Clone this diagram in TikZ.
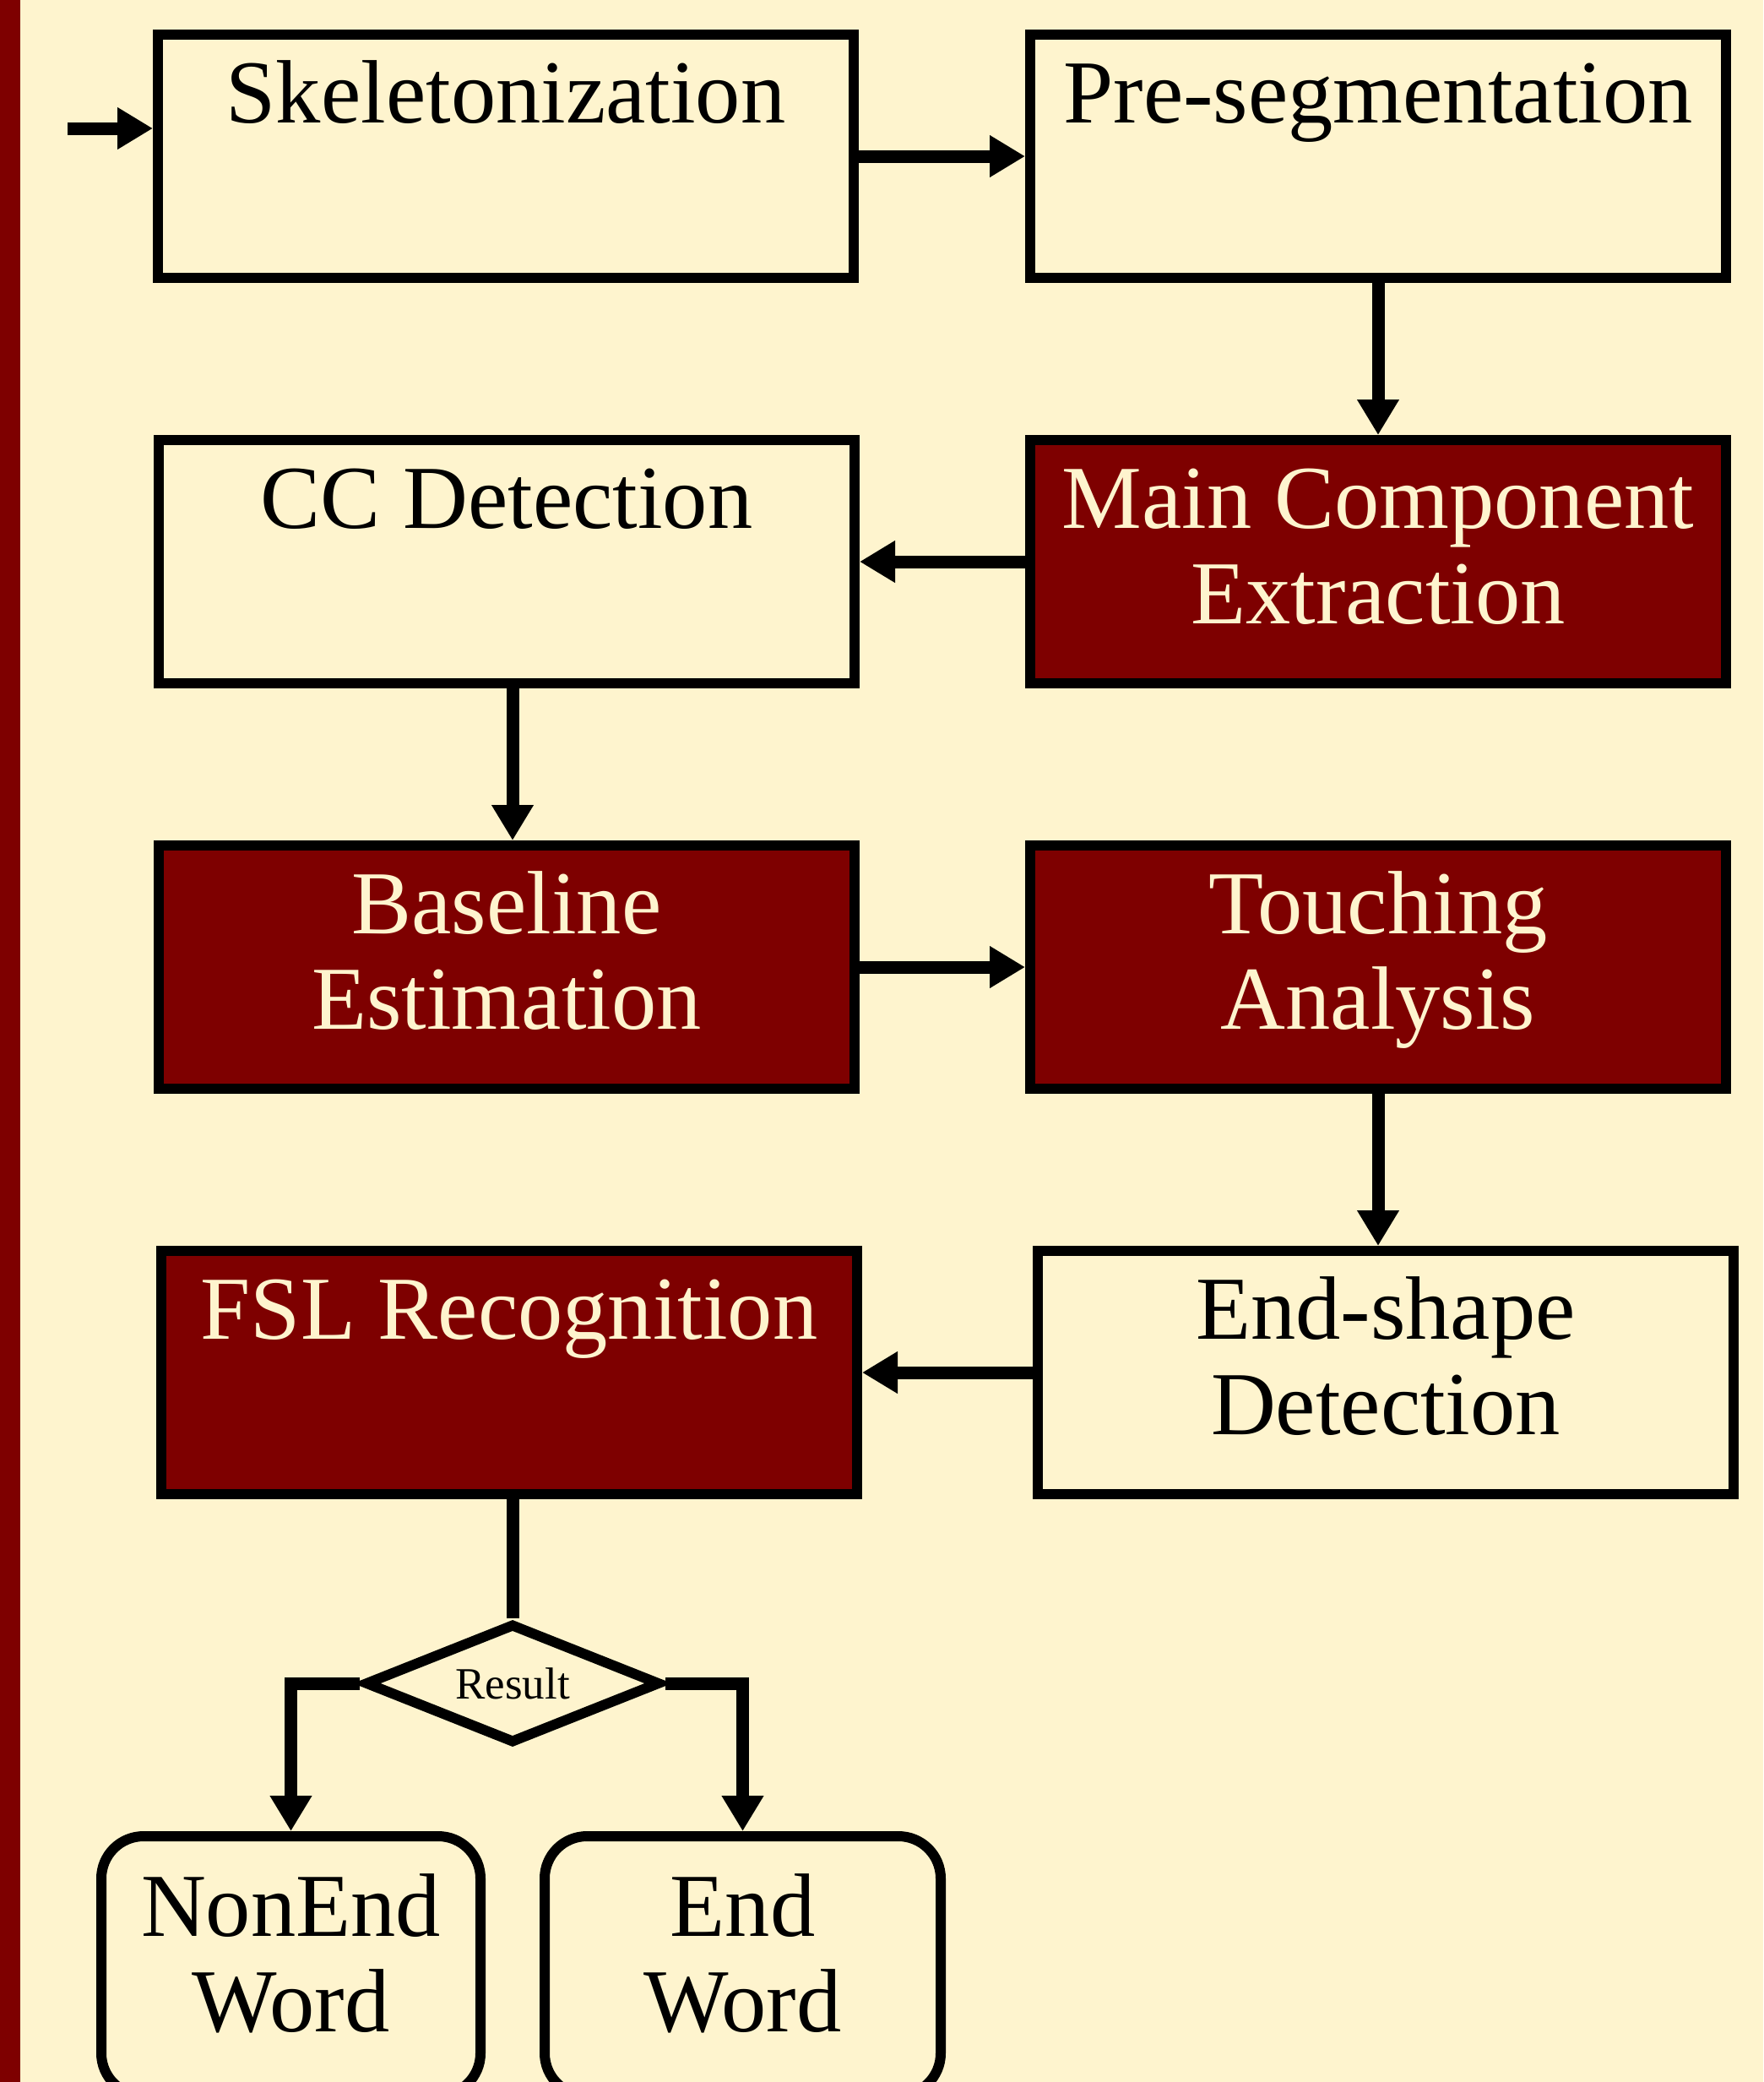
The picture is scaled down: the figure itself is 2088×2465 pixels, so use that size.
\documentclass[tikz,border=0pt]{standalone}
\usepackage{fontspec}
\setmainfont{Liberation Serif}
\usetikzlibrary{arrows.meta,shapes.geometric}
\definecolor{cream}{HTML}{FEF4CE}
\definecolor{maroon}{HTML}{7E0000}
\newcommand\stagetxt[1]{\parbox[c][288pt][t]{824pt}{\centering\fontsize{106.5}{113}\selectfont\rule{0pt}{104pt}#1}}
\newcommand\wordtxt[2]{\parbox[c][307pt][t]{#1}{\centering\fontsize{106.5}{113}\selectfont\rule{0pt}{118pt}#2}}
\tikzset{
  stage/.style={draw=black, line width=12pt, fill=cream, text=black, inner sep=0pt, rectangle},
  darkstage/.style={stage, fill=maroon, text=cream},
  wordbox/.style={draw=black, line width=12pt, fill=cream, text=black, inner sep=0pt, rounded corners=50pt},
  decide/.style={diamond, draw=black, line width=12pt, fill=cream, inner sep=0pt, aspect=2.5,
    minimum width=350pt, minimum height=142pt, font=\fontsize{53}{60}\selectfont},
  conn/.style={line width=15pt, -{Triangle[length=42pt,width=47pt]}},
  plainconn/.style={line width=15pt},
}
\begin{document}
\begin{tikzpicture}[x=1pt,y=-1pt]
\clip (0,0) rectangle (2088,2465);
\fill[cream] (0,0) rectangle (2088,2465);
\fill[maroon] (0,0) rectangle (24,2465);

\node[stage] (skel) at (599,185) {\stagetxt{Skeletonization}};
\node[stage] (pre) at (1632,185) {\stagetxt{Pre-segmentation}};
\node[stage] (cc) at (600,665) {\stagetxt{CC Detection}};
\node[darkstage] (main) at (1632,665) {\stagetxt{Main Component\\Extraction}};
\node[darkstage] (base) at (600,1145) {\stagetxt{Baseline\\Estimation}};
\node[darkstage] (touch) at (1632,1145) {\stagetxt{Touching\\Analysis}};
\node[darkstage] (fsl) at (603,1625) {\stagetxt{FSL Recognition}};
\node[stage] (endshape) at (1641,1625) {\stagetxt{End-shape\\Detection}};

\node[decide] (res) at (607,1993) {Result};

\node[wordbox] (nonend) at (344.5,2327.5) {\wordtxt{449pt}{NonEnd\\Word}};
\node[wordbox] (endword) at (879.5,2327.5) {\wordtxt{469pt}{End\\Word}};

\coordinate (in) at (80,152);
\draw[conn] (in) -- (in -| skel.west);
\draw[conn] (skel.east) -- (pre.west);
\draw[conn] (pre.south) -- (main.north);
\draw[conn] (main.west) -- (cc.east);
\draw[conn] ([xshift=7pt]cc.south) -- ([xshift=7pt]base.north);
\draw[conn] (base.east) -- (touch.west);
\draw[conn] (touch.south) -- (touch.south |- endshape.north);
\draw[conn] (endshape.west) -- (fsl.east);
\draw[plainconn] (fsl.south -| res.north) -- (res.north);
\draw[conn] (res.west) -| (nonend.north);
\draw[conn] (res.east) -| (endword.north);
\end{tikzpicture}
\end{document}
